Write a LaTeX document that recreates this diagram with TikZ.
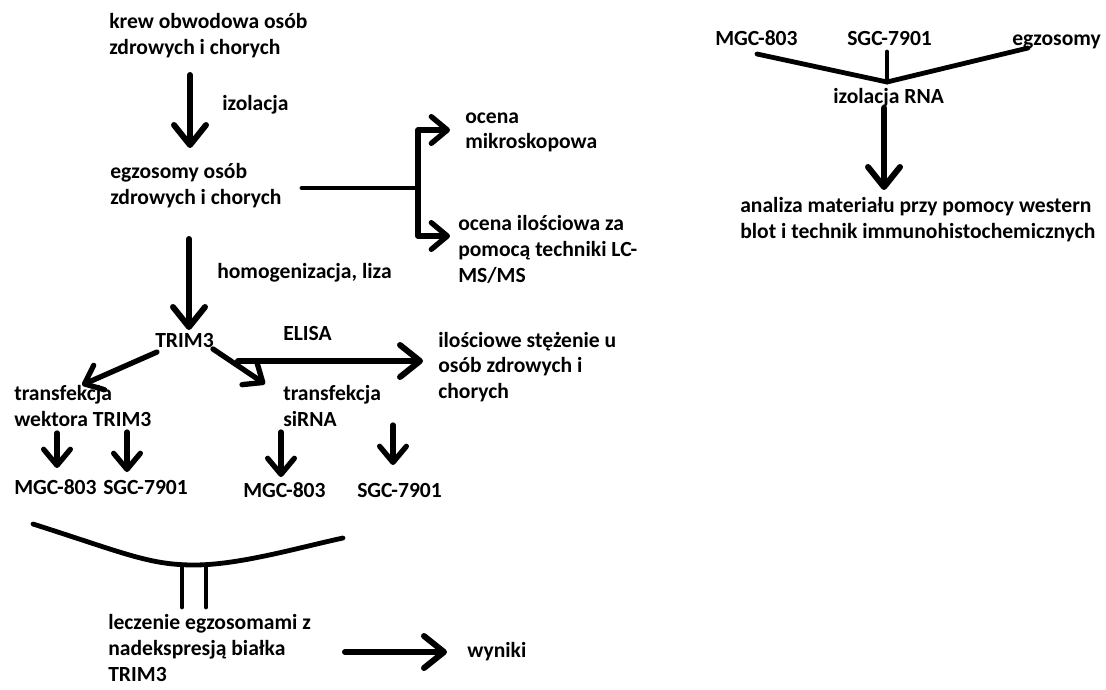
\documentclass[tikz,border=0pt]{standalone}
\usepackage{fontspec}
\setmainfont{Carlito}[BoldFont={Carlito Bold}]
\usepackage{tikz}
\usetikzlibrary{arrows.meta,calc}

\begin{document}
\begin{tikzpicture}[x=0.75pt, y=-0.75pt,
      txt/.style={anchor=west, align=left, inner sep=0pt, font=\fontsize{16.2}{19.3}\selectfont\bfseries,
        execute at begin node={\strut}, execute at end node={\strut}},
      flow/.style={line width=4.5pt, line cap=round, line join=round, -{Straight Barb[length=15pt, width=24pt, round]}},
      twig/.style={line width=4pt, line cap=round, line join=round, -{Straight Barb[length=12pt, width=20pt, round]}},
      bar/.style={line width=3.6pt, line cap=round, line join=round}
    ]
      \useasboundingbox (0,0) rectangle (1106,689);

      % Main column: blood -> exosomes -> TRIM3
      \node[txt] (krew) at (109,37.5) {krew obwodowa osób\\zdrowych i chorych};
      \node[txt] (izol) at (222,105) {izolacja};
      \node[txt] (egz) at (110,188) {egzosomy osób\\zdrowych i chorych};
      \node[txt] (homo) at (217,273) {homogenizacja, liza};
      \node[txt] (trim) at (155,342) {TRIM3};

      \draw[flow] ($(krew.west)+(81,37.5)$) -- ($(egz.west)+(80,-40)$);
      \draw[flow] ($(egz.west)+(79,51)$) -- ($(trim.west)+(34,-12)$);

      % Exosome assessment fork
      \node[txt] (ocmik) at (465,134.5) {ocena\\mikroskopowa};
      \node[txt] (ocil) at (458,253) {ocena ilościowa za\\pomocą techniki LC-\\MS/MS};
      \coordinate (fork) at ($(egz.west)+(308,0)$);
      \draw[bar] ($(egz.west)+(192,0)$) -- (fork);
      \draw[twig] (fork) |- ($(ocmik.west)+(-15,-4.5)$);
      \draw[twig] (fork) |- ($(ocil.west)+(-8,-17)$);

      % ELISA branch
      \node[txt] (elisa) at (283,335) {ELISA};
      \node[txt] (ilosc) at (438,369) {ilościowe stężenie u\\osób zdrowych i\\chorych};
      \draw[flow] ($(trim.west)+(83,19)$) -- ($(ilosc.west)+(-15,-8)$);

      % Transfection branches
      \node[txt] (twek) at (14,409.5) {transfekcja\\wektora TRIM3};
      \node[txt] (tsirna) at (283,409.5) {transfekcja\\siRNA};
      \draw[twig] ($(trim.west)+(2,10)$) -- ($(twek.west)+(68,-24.5)$);
      \draw[twig] ($(trim.west)+(58,7)$) -- ($(tsirna.west)+(-18,-25.5)$);

      \node[txt] (mgca) at (14,489) {MGC-803};
      \node[txt] (sgca) at (103,489) {SGC-7901};
      \node[txt] (mgcb) at (243,492) {MGC-803};
      \node[txt] (sgcb) at (357,492) {SGC-7901};
      \draw[twig] ($(twek.west)+(43,23.5)$) -- ($(mgca.west)+(43,-21)$);
      \draw[twig] ($(twek.west)+(113,22.5)$) -- ($(sgca.west)+(24,-17)$);
      \draw[twig] ($(tsirna.west)+(-2,22.5)$) -- ($(mgcb.west)+(38,-15)$);
      \draw[twig] ($(tsirna.west)+(110,15.5)$) -- ($(sgcb.west)+(36,-27)$);

      % Treatment and results
      \node[txt] (lecz) at (108,652) {leczenie egzosomami z\\nadekspresją białka\\TRIM3};
      \node[txt] (wyniki) at (467,652) {wyniki};
      \coordinate (dip) at ($(lecz.west)+(86,-87)$);
      \draw[bar] ($(mgca.west)+(19,35)$) .. controls ($(mgca.west)+(110,64)$) and ($(dip)+(-45,0)$) .. (dip)
        .. controls ($(dip)+(45,0)$) and ($(sgcb.west)+(-60,56)$) .. ($(sgcb.west)+(-14,46)$);
      \draw[bar] ($(dip)+(-12,0)$) -- ($(lecz.west)+(74,-45)$);
      \draw[bar] ($(dip)+(12,0)$) -- ($(lecz.west)+(98,-45)$);
      \draw[flow] ($(lecz.west)+(237,0)$) -- ($(wyniki.west)+(-20,0)$);

      % RNA isolation (right)
      \node[txt] (mgcr) at (715,40) {MGC-803};
      \node[txt] (sgcr) at (847,40) {SGC-7901};
      \node[txt] (egzr) at (1012,40) {egzosomy};
      \node[txt] (izrna) at (833,98) {izolacja RNA};
      \node[txt] (analiza) at (740,221.5) {analiza materiału przy pomocy western\\blot i technik immunohistochemicznych};
      \coordinate (join) at ($(izrna.west)+(54,-16)$);
      \draw[bar] ($(mgcr.west)+(42,14)$) -- (join) -- ($(egzr.west)+(16,8)$);
      \draw[bar] ($(sgcr.west)+(40,12)$) -- (join);
      \draw[flow] ($(izrna.west)+(51,10)$) -- ($(analiza.west)+(144,-31.5)$);
    \end{tikzpicture}
\end{document}
